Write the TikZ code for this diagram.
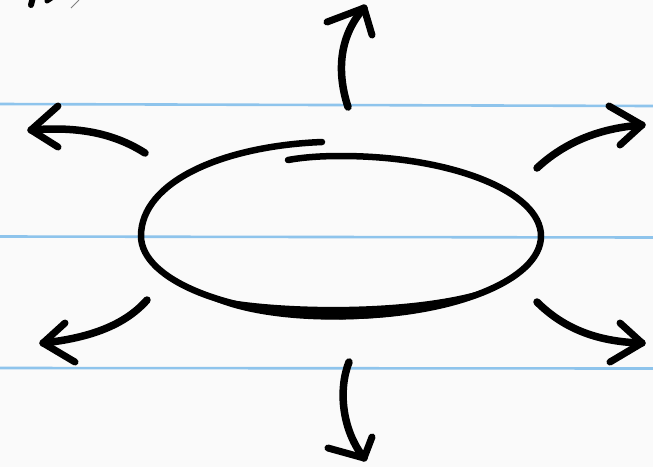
\documentclass[tikz,border=0pt]{standalone}
\usepackage{tikz}
\usetikzlibrary{calc,positioning}
\definecolor{paper}{RGB}{250,250,250}
\definecolor{ruleblue}{RGB}{142,196,236}
\tikzset{
	pen/.style={draw=black, line width=7.5pt, line cap=round, line join=round},
	rim/.style={draw=black, line width=6.5pt, line cap=round},
	ruling/.style={draw=ruleblue, line width=2.6pt},
	barb/.style={pen, line width=7pt},
}

\begin{document}
\begin{tikzpicture}
[x=1pt, y=-1pt]
\useasboundingbox (0,0) rectangle (653,467);
\fill[paper] (0,0) rectangle (653,467);
\clip (0,0) rectangle (653,467);

% ruled lines
\draw[ruling] (0,104) -- (653,106);
\draw[ruling] (0,236.5) -- (653,237.5);
\draw[ruling] (0,368) -- (653,368.5);

% leftover strokes in the corner
\draw[pen, line width=6pt] (31,5) -- (33,-3);
\draw[pen, line width=5pt] (47,1) -- (53,-3);
\draw[gray, line width=1pt] (71,8) -- (79,0);

% the ellipse, drawn in one stroke
\coordinate (start) at (288,160);
\coordinate (top) at (341,156);
\coordinate (east) at (541,236);
\coordinate (south) at (341,316);
\coordinate (west) at (141,236);
\coordinate (finish) at (322,142);
\draw[rim] (start) .. controls (305,157) and (322,156) .. (top)
	.. controls (451.5,156) and (541,191.8) .. (east)
	.. controls (541,280.2) and (451.5,316) .. (south)
	.. controls (230.5,316) and (141,280.2) .. (west)
	.. controls (141,182) and (222,146) .. (finish);
% heavier bottom
\fill[black] (200,293) .. controls (250,328) and (420,332) .. (500,284)
	.. controls (420,316) and (250,310) .. cycle;

% arrows
\coordinate (nT) at (348,107);  \coordinate (nH) at (364,8);
\draw[pen] (nT) .. controls (336,70) and (340,35) .. (nH);
\draw[barb] (327,22) -- (nH) -- (372,35);

\coordinate (nwT) at (145,153); \coordinate (nwH) at (31,130);
\draw[pen] (nwT) .. controls (115,134) and (80,126) .. (nwH);
\draw[barb] (58,106) -- (nwH) -- (58,147);

\coordinate (neT) at (537,168); \coordinate (neH) at (642,125);
\draw[pen] (neT) .. controls (565,142) and (600,128) .. (neH);
\draw[barb] (609,106) -- (neH) -- (620,145);

\coordinate (swT) at (147,300); \coordinate (swH) at (43,343);
\draw[pen] (swT) .. controls (125,325) and (90,338) .. (swH);
\draw[barb] (65,323) -- (swH) -- (75,362);

\coordinate (seT) at (537,302); \coordinate (seH) at (642,343);
\draw[pen] (seT) .. controls (565,330) and (600,342) .. (seH);
\draw[barb] (620,323) -- (seH) -- (610,362);

\coordinate (sT) at (349,362);  \coordinate (sH) at (364,458);
\draw[pen] (sT) .. controls (338,390) and (342,430) .. (sH);
\draw[barb] (328,448) -- (sH) -- (372,437);
\end{tikzpicture}
\end{document}
